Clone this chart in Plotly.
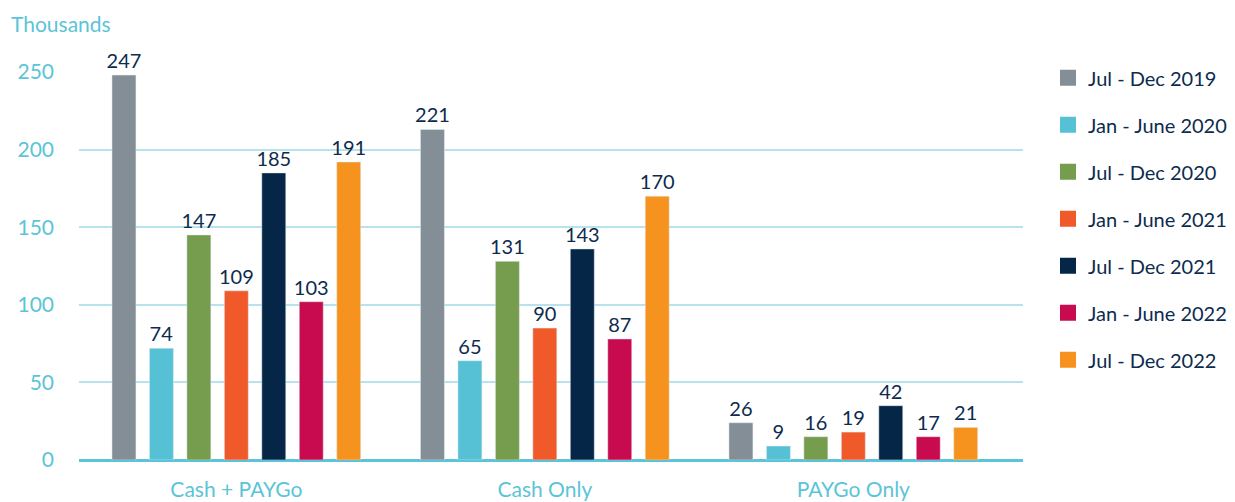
import plotly.graph_objects as go

# Categories and series
categories = ["Cash + PAYGo", "Cash Only", "PAYGo Only"]
periods = ["Jul - Dec 2019", "Jan - June 2020", "Jul - Dec 2020", "Jan - June 2021",
           "Jul - Dec 2021", "Jan - June 2022", "Jul - Dec 2022"]

# bar heights as drawn in the picture (thousands)
jul_dec_2019 = [248, 213, 24]
jan_jun_2020 = [72, 64, 9]
jul_dec_2020 = [145, 128, 15]
jan_jun_2021 = [109, 85, 18]
jul_dec_2021 = [185, 136, 35]
jan_jun_2022 = [102, 78, 15]
jul_dec_2022 = [192, 170, 21]

# data labels as printed on the picture
lbl_2019_h2 = ["247", "221", "26"]
lbl_2020_h1 = ["74", "65", "9"]
lbl_2020_h2 = ["147", "131", "16"]
lbl_2021_h1 = ["109", "90", "19"]
lbl_2021_h2 = ["185", "143", "42"]
lbl_2022_h1 = ["103", "87", "17"]
lbl_2022_h2 = ["191", "170", "21"]

values = [jul_dec_2019, jan_jun_2020, jul_dec_2020, jan_jun_2021,
          jul_dec_2021, jan_jun_2022, jul_dec_2022]
labels = [lbl_2019_h2, lbl_2020_h1, lbl_2020_h2, lbl_2021_h1,
          lbl_2021_h2, lbl_2022_h1, lbl_2022_h2]
colors = ["#838E96", "#56C1D5", "#769C4D", "#F05A2B", "#052647", "#C80B4E", "#F6921E"]

NAVY = "#0D2B4E"
CYAN = "#5BC4D8"
FONT = "Lato"

fig = go.Figure()
for name, vals, txt, col in zip(periods, values, labels, colors):
    fig.add_trace(go.Bar(
        x=categories, y=vals, name=name, marker_color=col,
        text=txt, textposition="outside", cliponaxis=False, constraintext="none",
        textfont=dict(family=FONT, size=20, color=NAVY),
        showlegend=False, hoverinfo="skip",
    ))
    # legend entry with a larger square swatch
    fig.add_trace(go.Scatter(
        x=[None], y=[None], mode="markers", name=name, legendgroup=name,
        marker=dict(symbol="square", size=16, color=col),
    ))

# page body adds an 8px offset, so the figure is a bit smaller than the window
fig.update_layout(
    width=1227, height=494,
    margin=dict(l=71, r=212, t=64, b=42),
    paper_bgcolor="white", plot_bgcolor="white",
    barmode="group", bargap=0.15, bargroupgap=0.36,
    font=dict(family=FONT, color=NAVY),
    legend=dict(
        xref="container", yref="container", x=0.8476, y=0.8984,
        xanchor="left", yanchor="top", maxheight=480,
        font=dict(family=FONT, size=20, color=NAVY),
        tracegroupgap=18, traceorder="grouped", itemwidth=30,
    ),
    annotations=[dict(
        text="Thousands", xref="paper", yref="paper",
        x=-0.0745, y=1.124, xanchor="left", yanchor="middle", showarrow=False,
        font=dict(family=FONT, size=21, color=CYAN),
    )],
)

fig.update_xaxes(
    range=[-0.51, 2.55], showgrid=False, showline=False, zeroline=False,
    tickfont=dict(family=FONT, size=21, color=CYAN), ticks="",
    ticklabelstandoff=15, automargin=False,
)
fig.update_yaxes(
    range=[0, 250], tickvals=[0, 50, 100, 150, 200, 250],
    showgrid=True, gridcolor="#B8E3EC", gridwidth=1.5,
    zeroline=True, zerolinecolor=CYAN, zerolinewidth=3,
    showline=False, ticks="",
    tickfont=dict(family=FONT, size=21, color=CYAN),
    ticklabelstandoff=24, automargin=False,
)

fig.write_html("out.html")
